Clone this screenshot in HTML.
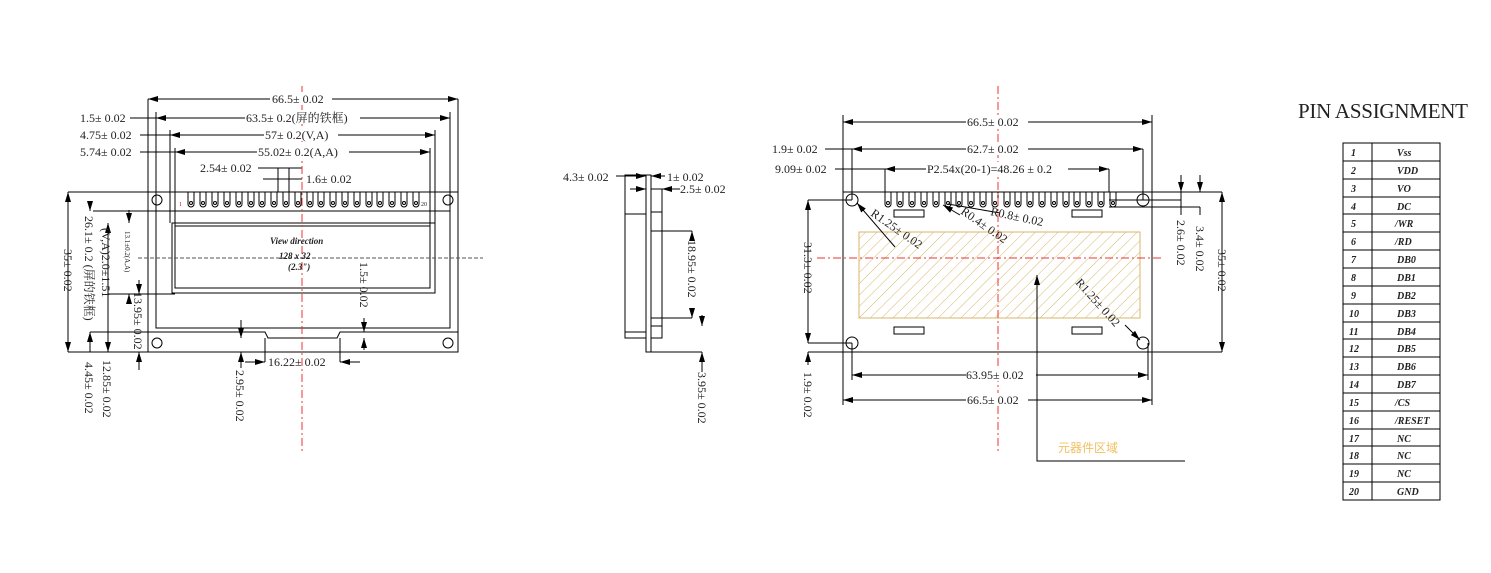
<!DOCTYPE html>
<html><head><meta charset="utf-8"><style>
html,body{margin:0;padding:0;background:#fff;}
svg{display:block;}
text{font-family:"Liberation Serif","Noto Serif CJK SC",serif;font-size:12px;fill:#222;}
.b{font-family:"Liberation Serif",serif;font-weight:bold;font-style:italic;font-size:10px;}
.v{font-family:"Liberation Serif",serif;font-weight:bold;font-style:italic;font-size:9px;}
</style></head><body>
<svg width="1491" height="573" viewBox="0 0 1491 573" xmlns="http://www.w3.org/2000/svg">
<defs>
<marker id="a" viewBox="0 0 10 6" refX="10" refY="3" markerWidth="10" markerHeight="6" orient="auto-start-reverse" markerUnits="userSpaceOnUse"><path d="M0,0L10,3L0,6z" fill="#000"/></marker>
<pattern id="h" width="8" height="8" patternUnits="userSpaceOnUse" patternTransform="rotate(45)"><line x1="0" y1="0" x2="0" y2="8" stroke="#d9b66a" stroke-width="1"/></pattern>
</defs>
<g stroke="#000" stroke-width="1" fill="none">
<!-- LEFT VIEW -->
<rect x="148" y="192" width="310" height="160"/>
<line x1="68" y1="192" x2="148" y2="192"/><line x1="68" y1="352" x2="148" y2="352"/>
<path d="M93,211H450V220M156,211V328H450V220"/>
<path d="M90,332H265L268,338H337L340,332H458"/>
<rect x="172" y="223" width="263" height="70"/>
<rect x="175" y="226" width="255" height="62"/>
<line x1="108" y1="294" x2="175" y2="294"/>
<circle cx="157" cy="200" r="5"/><circle cx="448" cy="200" r="5"/><circle cx="157" cy="343" r="5"/><circle cx="448" cy="343" r="5"/>
<g id="pinsL">
<path d="M188,192V204a3,3 0 0 0 6,0V192"/><path d="M200,192V204a3,3 0 0 0 6,0V192"/><path d="M212,192V204a3,3 0 0 0 6,0V192"/><path d="M224,192V204a3,3 0 0 0 6,0V192"/><path d="M236,192V204a3,3 0 0 0 6,0V192"/><path d="M248,192V204a3,3 0 0 0 6,0V192"/><path d="M259,192V204a3,3 0 0 0 6,0V192"/><path d="M271,192V204a3,3 0 0 0 6,0V192"/><path d="M283,192V204a3,3 0 0 0 6,0V192"/><path d="M295,192V204a3,3 0 0 0 6,0V192"/><path d="M307,192V204a3,3 0 0 0 6,0V192"/><path d="M318,192V204a3,3 0 0 0 6,0V192"/><path d="M330,192V204a3,3 0 0 0 6,0V192"/><path d="M342,192V204a3,3 0 0 0 6,0V192"/><path d="M354,192V204a3,3 0 0 0 6,0V192"/><path d="M366,192V204a3,3 0 0 0 6,0V192"/><path d="M377,192V204a3,3 0 0 0 6,0V192"/><path d="M389,192V204a3,3 0 0 0 6,0V192"/><path d="M401,192V204a3,3 0 0 0 6,0V192"/><path d="M413,192V204a3,3 0 0 0 6,0V192"/>
<circle cx="191" cy="203" r="1.5"/><circle cx="203" cy="203" r="1.5"/><circle cx="215" cy="203" r="1.5"/><circle cx="227" cy="203" r="1.5"/><circle cx="239" cy="203" r="1.5"/><circle cx="251" cy="203" r="1.5"/><circle cx="262" cy="203" r="1.5"/><circle cx="274" cy="203" r="1.5"/><circle cx="286" cy="203" r="1.5"/><circle cx="298" cy="203" r="1.5"/><circle cx="310" cy="203" r="1.5"/><circle cx="321" cy="203" r="1.5"/><circle cx="333" cy="203" r="1.5"/><circle cx="345" cy="203" r="1.5"/><circle cx="357" cy="203" r="1.5"/><circle cx="369" cy="203" r="1.5"/><circle cx="380" cy="203" r="1.5"/><circle cx="392" cy="203" r="1.5"/><circle cx="404" cy="203" r="1.5"/><circle cx="416" cy="203" r="1.5"/>
</g>
<!-- left dims -->
<line x1="148" y1="99" x2="148" y2="192"/><line x1="458" y1="99" x2="458" y2="192"/>
<line x1="148" y1="99" x2="458" y2="99" marker-start="url(#a)" marker-end="url(#a)"/>
<line x1="156" y1="118" x2="450" y2="118" marker-start="url(#a)" marker-end="url(#a)"/><line x1="130" y1="118" x2="156" y2="118"/>
<line x1="156" y1="112" x2="156" y2="211"/><line x1="450" y1="112" x2="450" y2="211"/>
<line x1="170" y1="135" x2="435" y2="135" marker-start="url(#a)" marker-end="url(#a)"/><line x1="140" y1="135" x2="170" y2="135"/>
<line x1="170" y1="130" x2="170" y2="223"/><line x1="435" y1="130" x2="435" y2="223"/>
<line x1="175" y1="152" x2="430" y2="152" marker-start="url(#a)" marker-end="url(#a)"/><line x1="140" y1="152" x2="175" y2="152"/>
<line x1="175" y1="148" x2="175" y2="226"/><line x1="430" y1="148" x2="430" y2="226"/>
<line x1="258" y1="168" x2="302" y2="168"/><line x1="263" y1="179" x2="302" y2="179"/>
<line x1="278" y1="168" x2="278" y2="192"/><line x1="289" y1="168" x2="289" y2="192"/>
<line x1="68" y1="192" x2="68" y2="352" marker-start="url(#a)" marker-end="url(#a)"/>
<line x1="90" y1="205" x2="90" y2="211" marker-end="url(#a)"/>
<line x1="90" y1="332" x2="90" y2="352" marker-start="url(#a)"/>
<line x1="108" y1="223" x2="108" y2="352" marker-start="url(#a)" marker-end="url(#a)"/>
<line x1="129" y1="210" x2="129" y2="223" marker-end="url(#a)"/>
<line x1="129" y1="294" x2="129" y2="300" marker-start="url(#a)"/>
<line x1="139" y1="280" x2="139" y2="294" marker-end="url(#a)"/>
<line x1="139" y1="352" x2="139" y2="370" marker-start="url(#a)"/>
<line x1="241" y1="320" x2="241" y2="338" marker-end="url(#a)"/>
<line x1="241" y1="352" x2="241" y2="368" marker-start="url(#a)"/>
<line x1="364" y1="318" x2="364" y2="332" marker-end="url(#a)"/>
<line x1="364" y1="338" x2="364" y2="350" marker-start="url(#a)"/>
<line x1="265" y1="338" x2="265" y2="362"/><line x1="340" y1="338" x2="340" y2="362"/>
<line x1="245" y1="362" x2="265" y2="362" marker-end="url(#a)"/><line x1="360" y1="362" x2="340" y2="362" marker-end="url(#a)"/>
<!-- SIDE VIEW -->
<rect x="625" y="175" width="21" height="163"/>
<line x1="625" y1="214" x2="646" y2="214"/><line x1="625" y1="332" x2="646" y2="332"/>
<rect x="646" y="175" width="5" height="177"/>
<path d="M651,189H662V338H651M651,212H662M651,231H692M651,318H692M651,326H662M651,352H702"/>
<line x1="662" y1="231" x2="662" y2="318"/>
<line x1="616" y1="176" x2="640" y2="176"/><line x1="632" y1="176" x2="646" y2="176" marker-end="url(#a)"/><line x1="665" y1="176" x2="651" y2="176" marker-end="url(#a)"/>
<line x1="630" y1="189" x2="646" y2="189" marker-end="url(#a)"/><line x1="680" y1="189" x2="662" y2="189" marker-end="url(#a)"/>
<line x1="692" y1="236" x2="692" y2="231" marker-end="url(#a)"/><line x1="692" y1="312" x2="692" y2="318" marker-end="url(#a)"/>
<line x1="702" y1="315" x2="702" y2="326" marker-end="url(#a)"/><line x1="702" y1="352" x2="702" y2="372" marker-start="url(#a)"/>
<!-- RIGHT VIEW -->
<rect x="843" y="192" width="309" height="160"/>
<line x1="1152" y1="192" x2="1222" y2="192"/><line x1="1152" y1="352" x2="1222" y2="352"/>
<circle cx="852" cy="200" r="6"/><circle cx="1143" cy="200" r="6"/><circle cx="852" cy="343" r="6"/><circle cx="1143" cy="343" r="6"/>
<use href="#pinsL" transform="translate(697,0)"/>
<rect x="894" y="210" width="30" height="7"/><rect x="1072" y="210" width="30" height="7"/><rect x="894" y="327" width="30" height="7"/><rect x="1072" y="327" width="30" height="7"/>
<rect x="859" y="232" width="281" height="86" fill="url(#h)" stroke="#d9b66a"/>
<line x1="843" y1="115" x2="843" y2="192"/><line x1="1152" y1="115" x2="1152" y2="192"/>
<line x1="843" y1="122" x2="1152" y2="122" marker-start="url(#a)" marker-end="url(#a)"/>
<line x1="852" y1="149" x2="852" y2="200"/><line x1="1143" y1="149" x2="1143" y2="200"/>
<line x1="852" y1="149" x2="1143" y2="149" marker-start="url(#a)" marker-end="url(#a)"/><line x1="825" y1="149" x2="852" y2="149"/>
<line x1="885" y1="169" x2="885" y2="192"/><line x1="1109" y1="169" x2="1109" y2="192"/>
<line x1="885" y1="169" x2="1109" y2="169" marker-start="url(#a)" marker-end="url(#a)"/><line x1="835" y1="169" x2="885" y2="169"/>
<line x1="808" y1="200" x2="852" y2="200"/><line x1="808" y1="343" x2="852" y2="343"/>
<line x1="808" y1="200" x2="808" y2="343" marker-start="url(#a)" marker-end="url(#a)"/>
<line x1="808" y1="352" x2="843" y2="352"/><line x1="808" y1="352" x2="808" y2="365" marker-start="url(#a)"/>
<line x1="852" y1="343" x2="852" y2="380"/><line x1="1148" y1="343" x2="1148" y2="380"/>
<line x1="852" y1="375" x2="1148" y2="375" marker-start="url(#a)" marker-end="url(#a)"/>
<line x1="843" y1="352" x2="843" y2="405"/><line x1="1152" y1="352" x2="1152" y2="405"/>
<line x1="843" y1="400" x2="1152" y2="400" marker-start="url(#a)" marker-end="url(#a)"/>
<line x1="1222" y1="192" x2="1222" y2="352" marker-start="url(#a)" marker-end="url(#a)"/>
<line x1="1109" y1="207" x2="1200" y2="207"/><line x1="1109" y1="200" x2="1181" y2="200"/>
<line x1="1181" y1="175" x2="1181" y2="192" marker-end="url(#a)"/><line x1="1181" y1="192" x2="1181" y2="215"/>
<line x1="1200" y1="175" x2="1200" y2="192" marker-end="url(#a)"/><line x1="1200" y1="207" x2="1200" y2="215"/>
<line x1="895" y1="247" x2="857" y2="203" marker-end="url(#a)"/>
<line x1="960" y1="215" x2="943" y2="205" marker-end="url(#a)"/>
<line x1="1000" y1="213" x2="948" y2="204"/>
<line x1="1125" y1="325" x2="1140" y2="340" marker-end="url(#a)"/>
<path d="M1037,275V461H1185"/>
<line x1="1037" y1="275" x2="1037" y2="285" marker-start="url(#a)"/>
<!-- table -->
<rect x="1343" y="143" width="97" height="357"/>
<line x1="1372" y1="143" x2="1372" y2="500"/>
</g>
<!-- centerlines -->
<g stroke="#e33" stroke-width="1" stroke-dasharray="8,3,2,3" fill="none">
<line x1="302" y1="86" x2="302" y2="452"/><line x1="998" y1="86" x2="998" y2="452"/>
<line x1="817" y1="258" x2="1163" y2="258"/>
</g>
<line x1="138" y1="258" x2="483" y2="258" stroke="#555" stroke-dasharray="4,2"/>
<g stroke="#000" stroke-width="1">
<line x1="1343" y1="161" x2="1440" y2="161"/><line x1="1343" y1="179" x2="1440" y2="179"/><line x1="1343" y1="197" x2="1440" y2="197"/><line x1="1343" y1="214" x2="1440" y2="214"/><line x1="1343" y1="232" x2="1440" y2="232"/><line x1="1343" y1="250" x2="1440" y2="250"/><line x1="1343" y1="268" x2="1440" y2="268"/><line x1="1343" y1="286" x2="1440" y2="286"/><line x1="1343" y1="304" x2="1440" y2="304"/><line x1="1343" y1="322" x2="1440" y2="322"/><line x1="1343" y1="339" x2="1440" y2="339"/><line x1="1343" y1="357" x2="1440" y2="357"/><line x1="1343" y1="375" x2="1440" y2="375"/><line x1="1343" y1="393" x2="1440" y2="393"/><line x1="1343" y1="411" x2="1440" y2="411"/><line x1="1343" y1="429" x2="1440" y2="429"/><line x1="1343" y1="446" x2="1440" y2="446"/><line x1="1343" y1="464" x2="1440" y2="464"/><line x1="1343" y1="482" x2="1440" y2="482"/>
</g>
<g>
<rect x="270" y="92" width="62" height="13" fill="#fff"/><text x="272" y="103">66.5± 0.02</text>
<rect x="245" y="111" width="115" height="13" fill="#fff"/><text x="246" y="122">63.5± 0.2(屏的铁框)</text>
<rect x="264" y="128" width="74" height="13" fill="#fff"/><text x="265" y="139">57± 0.2(V,A)</text>
<rect x="257" y="145" width="92" height="13" fill="#fff"/><text x="258" y="156">55.02± 0.2(A,A)</text>
<text x="80" y="122">1.5± 0.02</text>
<text x="80" y="139">4.75± 0.02</text>
<text x="80" y="156">5.74± 0.02</text>
<text x="200" y="172">2.54± 0.02</text>
<text x="306" y="183">1.6± 0.02</text>
<text x="179" y="206" style="font-size:6px;fill:#c00">1</text>
<text x="421" y="206" style="font-size:6px">20</text>
<text class="v" x="270" y="244">View direction</text>
<text class="v" x="279" y="259">128 x 32</text>
<text class="v" x="288" y="270">(2.3")</text>
<text transform="translate(64,249) rotate(90)">35± 0.02</text>
<text transform="translate(85,216) rotate(90)">26.1± 0.2 (屏的铁框)</text>
<text transform="translate(102,228) rotate(90)">(V,A)2.0±1.51</text>
<text transform="translate(125,231) rotate(90)" style="font-size:7px">13.1±0.2(A,A)</text>
<text transform="translate(134,292) rotate(90)">13.95± 0.02</text>
<text transform="translate(85,362) rotate(90)">4.45± 0.02</text>
<text transform="translate(103,360) rotate(90)">12.85± 0.02</text>
<text transform="translate(236,370) rotate(90)">2.95± 0.02</text>
<text transform="translate(360,262) rotate(90)">1.5± 0.02</text>
<text x="268" y="366">16.22± 0.02</text>
<text x="563" y="181">4.3± 0.02</text>
<text x="667" y="181">1± 0.02</text>
<text x="680" y="193">2.5± 0.02</text>
<text transform="translate(688,240) rotate(90)">18.95± 0.02</text>
<text transform="translate(698,372) rotate(90)">3.95± 0.02</text>
<rect x="966" y="115" width="62" height="13" fill="#fff"/><text x="967" y="126">66.5± 0.02</text>
<rect x="966" y="142" width="62" height="13" fill="#fff"/><text x="967" y="153">62.7± 0.02</text>
<rect x="926" y="162" width="142" height="13" fill="#fff"/><text x="927" y="173">P2.54x(20-1)=48.26 ± 0.2</text>
<text x="772" y="153">1.9± 0.02</text>
<text x="775" y="173">9.09± 0.02</text>
<text transform="translate(870,215) rotate(35)">R1.25± 0.02</text>
<text transform="translate(960,213) rotate(35)">R0.4± 0.02</text>
<text transform="translate(990,215) rotate(12)">R0.8± 0.02</text>
<text transform="translate(1075,283) rotate(48)">R1.25± 0.02</text>
<text transform="translate(804,242) rotate(90)">31.3± 0.02</text>
<text transform="translate(804,372) rotate(90)">1.9± 0.02</text>
<text transform="translate(1177,220) rotate(90)">2.6± 0.02</text>
<text transform="translate(1196,226) rotate(90)">3.4± 0.02</text>
<text transform="translate(1218,249) rotate(90)">35± 0.02</text>
<rect x="966" y="368" width="70" height="13" fill="#fff"/><text x="966" y="379">63.95± 0.02</text>
<rect x="966" y="393" width="62" height="13" fill="#fff"/><text x="967" y="404">66.5± 0.02</text>
<text x="1058" y="452" style="fill:#f0c060;font-family:'Noto Sans CJK SC',sans-serif">元器件区域</text>
<text x="1298" y="118" style="font-size:21px" textLength="170">PIN ASSIGNMENT</text>
</g>
<g>
<text class="b" x="1351" y="156">1</text><text class="b" x="1397" y="156">Vss</text>
<text class="b" x="1351" y="174">2</text><text class="b" x="1397" y="174">VDD</text>
<text class="b" x="1351" y="192">3</text><text class="b" x="1397" y="192">VO</text>
<text class="b" x="1351" y="210">4</text><text class="b" x="1397" y="210">DC</text>
<text class="b" x="1351" y="227">5</text><text class="b" x="1395" y="227">/WR</text>
<text class="b" x="1351" y="245">6</text><text class="b" x="1395" y="245">/RD</text>
<text class="b" x="1351" y="263">7</text><text class="b" x="1397" y="263">DB0</text>
<text class="b" x="1351" y="281">8</text><text class="b" x="1397" y="281">DB1</text>
<text class="b" x="1351" y="299">9</text><text class="b" x="1397" y="299">DB2</text>
<text class="b" x="1349" y="317">10</text><text class="b" x="1397" y="317">DB3</text>
<text class="b" x="1349" y="335">11</text><text class="b" x="1397" y="335">DB4</text>
<text class="b" x="1349" y="352">12</text><text class="b" x="1397" y="352">DB5</text>
<text class="b" x="1349" y="370">13</text><text class="b" x="1397" y="370">DB6</text>
<text class="b" x="1349" y="388">14</text><text class="b" x="1397" y="388">DB7</text>
<text class="b" x="1349" y="406">15</text><text class="b" x="1395" y="406">/CS</text>
<text class="b" x="1349" y="424">16</text><text class="b" x="1395" y="424">/RESET</text>
<text class="b" x="1349" y="442">17</text><text class="b" x="1397" y="442">NC</text>
<text class="b" x="1349" y="459">18</text><text class="b" x="1397" y="459">NC</text>
<text class="b" x="1349" y="477">19</text><text class="b" x="1397" y="477">NC</text>
<text class="b" x="1349" y="495">20</text><text class="b" x="1397" y="495">GND</text>
</g>
</svg>
</body></html>
